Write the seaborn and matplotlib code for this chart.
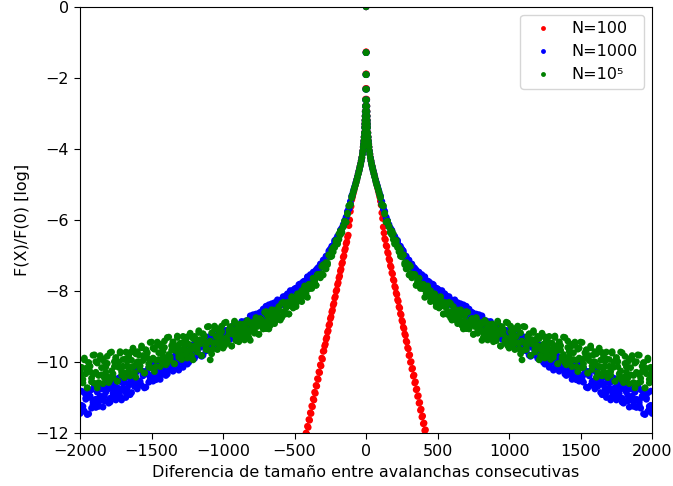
import numpy as np
import pandas as pd
import matplotlib
matplotlib.use("Agg")
import matplotlib.pyplot as plt
from matplotlib.lines import Line2D
import seaborn as sns

# ---------------- data ----------------
labels = ["N=100", "N=1000", "N=10⁵"]
colors = ["red", "blue", "green"]

x_center = [1, 2, 3, 4, 5, 6, 7, 8, 9, 10, 12, 14, 16, 18, 20, 23, 26, 30, 34, 38,
            42, 46, 50, 55, 60, 65, 70, 75, 80, 85, 90, 95]
x_tail = np.arange(100, 2001, 10)      # |x| for N=1000 and N=1e5 tails
x_red_tail = np.arange(100, 441, 5)    # |x| for N=100 tail

red_center = [-1.27, -1.89, -2.30, -2.60, -2.79, -2.94, -3.07, -3.19, -3.29, -3.39,
              -3.54, -3.66, -3.77, -3.86, -3.94, -4.05, -4.14, -4.24, -4.33, -4.41,
              -4.48, -4.55, -4.62, -4.7, -4.78, -4.86, -4.94, -5.02, -5.1, -5.18, -5.26, -5.35]
red_left = [
    -5.43, -5.62, -5.76, -6.00, -6.16, -6.43, -6.48, -6.62, -6.67, -6.81,
    -6.86, -7.01, -7.05, -7.20, -7.24, -7.39, -7.44, -7.58, -7.63, -7.77,
    -7.82, -7.97, -8.01, -8.16, -8.20, -8.35, -8.40, -8.54, -8.59, -8.73,
    -8.78, -8.93, -8.97, -9.12, -9.16, -9.31, -9.36, -9.50, -9.55, -9.69,
    -9.70, -9.92, -9.89, -10.11, -10.08, -10.30, -10.28, -10.49, -10.47, -10.68,
    -10.66, -10.88, -10.85, -11.07, -11.04, -11.26, -11.24, -11.45, -11.43, -11.64,
    -11.62, -11.84, -11.81, -12.03, -12.00, -12.22, -12.20, -12.41, -12.39]
red_right = [
    -5.47, -5.58, -5.80, -5.96, -6.20, -6.37, -6.53, -6.56, -6.72, -6.75,
    -6.91, -6.95, -7.10, -7.14, -7.29, -7.33, -7.49, -7.52, -7.68, -7.71,
    -7.87, -7.91, -8.06, -8.10, -8.25, -8.29, -8.45, -8.48, -8.64, -8.67,
    -8.83, -8.87, -9.02, -9.06, -9.21, -9.25, -9.41, -9.44, -9.60, -9.63,
    -9.82, -9.80, -10.01, -9.99, -10.20, -10.18, -10.40, -10.37, -10.59, -10.56,
    -10.78, -10.76, -10.97, -10.95, -11.16, -11.14, -11.36, -11.33, -11.55, -11.52,
    -11.74, -11.72, -11.93, -11.91, -12.12, -12.10, -12.32, -12.29, -12.51]

blue_center = [-1.29, -1.91, -2.32, -2.62, -2.8, -2.95, -3.08, -3.2, -3.3, -3.4,
               -3.55, -3.67, -3.78, -3.87, -3.95, -4.06, -4.15, -4.25, -4.34, -4.42,
               -4.49, -4.56, -4.62, -4.7, -4.78, -4.86, -4.93, -5.0, -5.06, -5.13, -5.2, -5.28]
blue_left = [
    -5.35, -5.48, -5.69, -5.76, -5.95, -6.02, -6.18, -6.23, -6.31, -6.45,
    -6.46, -6.60, -6.58, -6.72, -6.83, -6.82, -6.92, -7.02, -7.02, -7.18,
    -7.13, -7.27, -7.35, -7.33, -7.36, -7.52, -7.47, -7.47, -7.60, -7.62,
    -7.70, -7.62, -7.74, -7.72, -7.87, -7.82, -7.80, -7.93, -8.03, -7.92,
    -8.01, -7.98, -8.14, -7.99, -8.16, -8.08, -8.24, -8.20, -8.20, -8.37,
    -8.26, -8.41, -8.25, -8.39, -8.54, -8.37, -8.47, -8.56, -8.39, -8.65,
    -8.43, -8.64, -8.73, -8.61, -8.60, -8.87, -8.71, -8.65, -8.87, -8.84,
    -8.95, -8.74, -8.94, -8.84, -9.09, -8.95, -8.88, -9.07, -9.22, -8.96,
    -9.10, -9.02, -9.27, -8.98, -9.23, -9.06, -9.32, -9.21, -9.20, -9.45,
    -9.23, -9.45, -9.16, -9.38, -9.58, -9.30, -9.43, -9.54, -9.27, -9.64,
    -9.29, -9.58, -9.69, -9.50, -9.47, -9.84, -9.59, -9.49, -9.78, -9.72,
    -9.85, -9.56, -9.81, -9.68, -10.01, -9.80, -9.69, -9.95, -10.15, -9.78,
    -9.96, -9.84, -10.17, -9.77, -10.09, -9.87, -10.20, -10.05, -10.02, -10.34,
    -10.05, -10.34, -9.94, -10.23, -10.49, -10.10, -10.27, -10.41, -10.04, -10.54,
    -10.06, -10.43, -10.57, -10.30, -10.26, -10.73, -10.39, -10.25, -10.62, -10.53,
    -10.69, -10.30, -10.62, -10.43, -10.86, -10.58, -10.42, -10.74, -11.00, -10.50,
    -10.73, -10.57, -10.97, -10.45, -10.87, -10.56, -10.97, -10.77, -10.72, -11.13,
    -10.75, -11.11, -10.59, -10.95, -11.27, -10.76, -10.96, -11.13, -10.66, -11.28,
    -10.67, -11.13, -11.30, -10.96, -10.90, -11.48, -11.05, -10.87, -11.33, -11.22,
    -11.45]
blue_right = [
    -5.32, -5.55, -5.67, -5.77, -5.92, -6.09, -6.13, -6.25, -6.29, -6.44,
    -6.53, -6.54, -6.62, -6.74, -6.74, -6.87, -6.87, -7.04, -7.05, -7.15,
    -7.21, -7.28, -7.24, -7.33, -7.47, -7.41, -7.47, -7.58, -7.59, -7.54,
    -7.72, -7.60, -7.76, -7.76, -7.74, -7.92, -7.87, -7.82, -7.99, -7.94,
    -7.94, -8.15, -8.10, -8.02, -8.11, -8.25, -8.13, -8.23, -8.16, -8.33,
    -8.41, -8.29, -8.35, -8.45, -8.33, -8.48, -8.36, -8.60, -8.46, -8.56,
    -8.60, -8.68, -8.51, -8.63, -8.84, -8.63, -8.69, -8.87, -8.83, -8.67,
    -8.98, -8.70, -8.98, -8.92, -8.84, -9.14, -9.01, -8.86, -9.14, -9.00,
    -8.98, -9.31, -9.18, -9.02, -9.15, -9.36, -9.13, -9.27, -9.11, -9.38,
    -9.48, -9.25, -9.32, -9.47, -9.25, -9.48, -9.25, -9.60, -9.38, -9.51,
    -9.53, -9.63, -9.38, -9.52, -9.81, -9.50, -9.57, -9.80, -9.73, -9.48,
    -9.90, -9.51, -9.86, -9.78, -9.67, -10.06, -9.88, -9.66, -10.05, -9.83,
    -9.79, -10.23, -10.05, -9.82, -9.98, -10.26, -9.95, -10.14, -9.90, -10.26,
    -10.38, -10.07, -10.15, -10.35, -10.04, -10.34, -10.03, -10.50, -10.19, -10.36,
    -10.38, -10.50, -10.16, -10.34, -10.71, -10.28, -10.35, -10.66, -10.55, -10.21,
    -10.76, -10.23, -10.69, -10.57, -10.42, -10.92, -10.65, -10.37, -10.86, -10.57,
    -10.51, -11.07, -10.83, -10.52, -10.72, -11.07, -10.65, -10.88, -10.58, -11.02,
    -11.16, -10.77, -10.85, -11.10, -10.70, -11.06, -10.66, -11.25, -10.85, -11.05,
    -11.07, -11.21, -10.78, -11.00, -11.46, -10.92, -11.01, -11.39, -11.25, -10.82,
    -11.35]

green_center = [-1.29, -1.91, -2.32, -2.62, -2.8, -2.95, -3.08, -3.2, -3.3, -3.4,
                -3.55, -3.67, -3.78, -3.87, -3.95, -4.06, -4.15, -4.25, -4.34, -4.42,
                -4.49, -4.56, -4.63, -4.71, -4.79, -4.87, -4.95, -5.02, -5.08, -5.15, -5.22, -5.3]
green_left = [
    -5.34, -5.58, -5.60, -5.84, -6.06, -6.04, -6.20, -6.34, -6.31, -6.55,
    -6.65, -6.57, -6.78, -6.78, -7.02, -6.99, -7.00, -7.21, -7.38, -7.28,
    -7.26, -7.51, -7.63, -7.53, -7.54, -7.84, -7.69, -7.65, -7.89, -7.89,
    -7.94, -7.87, -8.15, -7.86, -8.15, -7.99, -8.27, -8.17, -8.16, -8.44,
    -8.23, -8.48, -8.16, -8.42, -8.65, -8.33, -8.48, -8.61, -8.32, -8.75,
    -8.74, -8.44, -8.70, -8.57, -8.92, -8.70, -8.59, -8.86, -9.07, -8.70,
    -8.58, -8.93, -9.07, -8.82, -8.78, -9.22, -8.91, -8.78, -9.13, -9.06,
    -9.08, -8.93, -9.31, -8.83, -9.20, -8.92, -9.30, -9.11, -9.06, -9.43,
    -9.03, -9.40, -8.85, -9.22, -9.55, -9.01, -9.22, -9.39, -8.88, -9.54,
    -9.48, -8.99, -9.37, -9.13, -9.65, -9.28, -9.08, -9.47, -9.77, -9.94,
    -9.00, -9.47, -9.65, -9.28, -9.21, -9.82, -9.37, -9.17, -9.64, -9.53,
    -9.54, -9.34, -9.82, -9.19, -9.67, -9.29, -9.78, -9.53, -9.45, -9.93,
    -9.47, -9.87, -9.27, -9.68, -10.05, -9.44, -9.67, -9.86, -9.30, -10.02,
    -9.95, -9.41, -9.84, -9.58, -10.13, -9.74, -9.53, -9.95, -10.27, -9.61,
    -9.44, -9.95, -10.15, -9.74, -9.66, -10.31, -9.82, -9.60, -10.11, -9.99,
    -10.00, -9.77, -10.30, -9.61, -10.14, -9.73, -10.26, -9.98, -9.91, -10.44,
    -9.93, -10.37, -9.71, -10.15, -10.54, -9.88, -10.13, -10.33, -9.72, -10.51,
    -10.43, -9.84, -10.29, -10.00, -10.61, -10.16, -9.92, -10.38, -10.73, -9.99,
    -9.80, -10.36, -10.56, -10.12, -10.02, -10.73, -10.18, -9.94, -10.49, -10.35,
    -10.25]
green_right = [
    -5.38, -5.56, -5.61, -5.81, -6.06, -6.04, -6.17, -6.36, -6.42, -6.39,
    -6.68, -6.62, -6.74, -6.90, -6.84, -7.04, -6.98, -7.26, -7.20, -7.35,
    -7.55, -7.31, -7.59, -7.58, -7.54, -7.84, -7.75, -7.64, -7.93, -7.82,
    -7.81, -8.18, -8.07, -7.91, -8.06, -8.30, -8.07, -8.23, -8.08, -8.37,
    -8.33, -8.43, -8.19, -8.34, -8.65, -8.33, -8.41, -8.66, -8.59, -8.35,
    -8.82, -8.55, -8.62, -8.82, -8.54, -8.81, -8.53, -8.97, -8.69, -8.86,
    -9.06, -8.60, -9.01, -8.91, -8.78, -9.22, -9.00, -8.75, -9.19, -8.94,
    -8.89, -9.39, -9.18, -8.89, -9.07, -9.38, -9.00, -9.21, -8.93, -9.34,
    -9.19, -9.32, -8.89, -9.10, -9.55, -9.01, -9.10, -9.47, -9.32, -8.90,
    -9.61, -9.15, -9.25, -9.51, -9.06, -9.45, -8.99, -9.63, -9.18, -9.41,
    -9.67, -9.01, -9.57, -9.41, -9.21, -9.82, -9.49, -9.12, -9.72, -9.36,
    -9.28, -9.94, -9.65, -9.27, -9.50, -9.89, -9.39, -9.66, -9.28, -9.81,
    -9.64, -9.79, -9.31, -9.55, -10.05, -9.44, -9.54, -9.94, -9.79, -9.31,
    -10.08, -9.59, -9.70, -9.99, -9.50, -9.93, -9.44, -10.13, -9.64, -9.89,
    -10.17, -9.45, -10.05, -9.88, -9.66, -10.31, -9.96, -9.55, -10.21, -9.80,
    -9.71, -10.43, -10.11, -9.71, -9.95, -10.39, -9.83, -10.12, -9.72, -10.30,
    -10.12, -10.27, -9.75, -10.00, -10.54, -9.88, -9.99, -10.43, -10.25, -9.74,
    -10.58, -10.04, -10.14, -10.45, -9.91, -10.36, -9.82, -10.58, -10.03, -10.29,
    -10.60, -9.81, -10.46, -10.27, -10.02, -10.73, -10.33, -9.89, -10.59, -10.15,
    -10.35]

# ---------------- build long table ----------------
# the distribution is symmetric in X: for the wide N=1000 / N=1e5 tails
# both read-off profiles are used on each side.
series = [
    (labels[0], red_center, [red_left], [red_right], x_red_tail),
    (labels[1], blue_center, [blue_left, blue_right], [blue_right, blue_left], x_tail),
    (labels[2], green_center, [green_left, green_right], [green_right, green_left], x_tail),
]
frames = []
for name, cen, lefts, rights, xt in series:
    xs = [0] + list(x_center) + [-v for v in x_center]
    ys = [0.0] + list(cen) + list(cen)
    for r in rights:
        n = min(len(xt), len(r))
        xs += list(xt[:n]); ys += list(r[:n])
    for l in lefts:
        n = min(len(xt), len(l))
        xs += [-v for v in xt[:n]]; ys += list(l[:n])
    frames.append(pd.DataFrame({"x": xs, "y": ys, "serie": name}))
df = pd.concat(frames, ignore_index=True)

# ---------------- plot ----------------
FS = 11.5
fig = plt.figure(figsize=(6.73, 4.86), dpi=100)
ax = fig.add_axes([0.119, 0.109, 0.850, 0.877])

sns.scatterplot(data=df, x="x", y="y", hue="serie", hue_order=labels,
                palette=dict(zip(labels, colors)), s=24, linewidth=0,
                legend=False, ax=ax)

ax.set_xlim(-2000, 2000)
ax.set_ylim(-12, 0)
ax.set_xticks(np.arange(-2000, 2001, 500))
ax.set_yticks(np.arange(-12, 1, 2))
ax.set_xlabel("Diferencia de tamaño entre avalanchas consecutivas", fontsize=FS)
ax.set_ylabel("F(X)/F(0) [log]", fontsize=FS)
ax.tick_params(labelsize=FS, length=4.5)

handles = [Line2D([], [], linestyle="none", marker="o", markersize=3.5,
                  markerfacecolor=c, markeredgewidth=0) for c in colors]
ax.legend(handles, labels, loc="upper right", fontsize=FS)

fig.savefig("out.png", dpi=100)
